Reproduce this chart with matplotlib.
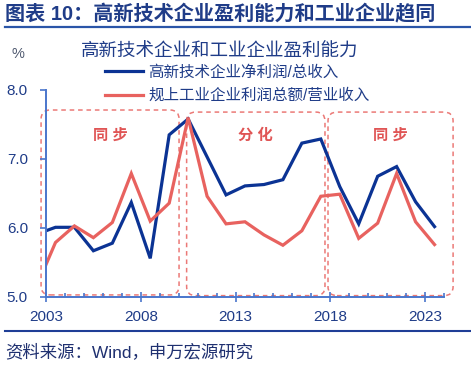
import matplotlib
matplotlib.use('Agg')
import matplotlib.pyplot as plt
from matplotlib.patches import FancyBboxPatch
from matplotlib.lines import Line2D

plt.rcParams['font.family'] = ['Liberation Sans', 'Noto Sans CJK SC', 'DejaVu Sans']

# ---- data ----
years = list(range(2002, 2024))
hightech = [5.91, 6.01, 6.01, 5.67, 5.78, 6.37, 5.56, 7.35, 7.58, 7.03, 6.48,
            6.61, 6.63, 6.70, 7.23, 7.29, 6.60, 6.06, 6.75, 6.89, 6.38, 6.02]
industrial = [5.15, 5.79, 6.03, 5.86, 6.08, 6.79, 6.10, 6.36, 7.60, 6.46, 6.06,
              6.09, 5.90, 5.75, 5.96, 6.46, 6.49, 5.85, 6.07, 6.79, 6.09, 5.76]
series_labels = ['高新技术企业净利润/总收入', '规上工业企业利润总额/营业收入']
xticks = [2003, 2008, 2013, 2018, 2023]
yticks = [5.0, 6.0, 7.0, 8.0]
# phase boxes: (x0, x1, y0, y1, label)
phases = [(2002.74, 2010.02, 5.03, 7.71, '同 步'),
          (2010.42, 2017.72, 5.02, 7.68, '分 化'),
          (2017.88, 2024.48, 5.02, 7.68, '同 步')]

BLUE = '#0B3394'
RED = '#E8625F'
AXC = '#4A76CC'
TXT = '#1F3C88'

W, H = 471, 365
fig = plt.figure(figsize=(W / 100, H / 100), dpi=100)

ov = fig.add_axes([0, 0, 1, 1], zorder=0)
ov.set_xlim(0, W)
ov.set_ylim(0, H)
ov.axis('off')

ax = fig.add_axes([46 / W, (H - 297) / H, (444 - 46) / W, (297 - 90) / H], zorder=1)
ax.patch.set_alpha(0)

xpos = [y + 0.5 for y in years]
l1, = ax.plot(xpos, hightech, color=BLUE, lw=2.3, solid_joinstyle='miter')
l2, = ax.plot(xpos, industrial, color=RED, lw=2.3, solid_joinstyle='miter')

ax.set_xlim(2003, 2024)
ax.set_ylim(5, 8)
ax.set_xticks(xticks)
ax.set_xticks(range(2003, 2025), minor=True)
ax.set_yticks(yticks)
ax.set_yticklabels([f'{v:.1f}' for v in yticks])
for s in ['top', 'right']:
    ax.spines[s].set_visible(False)
for s in ['left', 'bottom']:
    ax.spines[s].set_color(AXC)
    ax.spines[s].set_linewidth(1.4)
ax.tick_params(axis='y', direction='out', length=4, width=1.2, color=AXC,
               labelcolor=TXT, labelsize=11, pad=9)
ax.tick_params(axis='x', which='major', direction='inout', length=7, width=1.2,
               color=AXC, labelcolor=TXT, labelsize=11, pad=6)
ax.tick_params(axis='x', which='minor', direction='in', length=3, width=1.2, color=AXC)

# phase boxes drawn in pixel space for true rounded corners
fig.canvas.draw()
for x0, x1, y0, y1, lab in phases:
    (px0, py0) = ax.transData.transform((x0, y0))
    (px1, py1) = ax.transData.transform((x1, y1))
    box = FancyBboxPatch((px0, py0), px1 - px0, py1 - py0,
                         boxstyle='round,pad=0,rounding_size=9',
                         fill=False, ec=RED, lw=1.1, ls=(0, (3, 2.5)),
                         alpha=0.85, clip_on=False)
    ov.add_patch(box)
    ax.text((x0 + x1) / 2, 7.34, lab, color='#E05555', fontsize=11,
            fontweight='bold', ha='center', va='center')

# titles and texts
fig.text(219.5 / W, 1 - 52 / H, '高新技术企业和工业企业盈利能力', fontsize=13.3,
         color=TXT, ha='center', va='center')
fig.text(17.5 / W, 1 - 54 / H, '%', fontsize=10.5, color='#505A70',
         ha='center', va='center')
fig.legend([l1, l2], series_labels, loc='upper left',
           bbox_to_anchor=(105 / W, 1 - 64.5 / H), frameon=False, fontsize=11.2,
           labelcolor=TXT, handlelength=2.45, handletextpad=0.35,
           labelspacing=0.55, borderpad=0, borderaxespad=0)

fig.text(5 / W, 1 - 14 / H, '图表 10：高新技术企业盈利能力和工业企业趋同',
         fontsize=14.5, fontweight='bold', color='#1F3C88', ha='left', va='center')
fig.add_artist(Line2D([5 / W, 1], [1 - 27 / H, 1 - 27 / H], color='#2A55A8', lw=1.6))
fig.add_artist(Line2D([5 / W, 1], [1 - 330.5 / H, 1 - 330.5 / H], color='#1F3E96', lw=1.5))
fig.text(5 / W, 1 - 352 / H, '资料来源：Wind，申万宏源研究', fontsize=12.5,
         color='#1F3070', ha='left', va='center')

fig.savefig('out.png', dpi=100)
